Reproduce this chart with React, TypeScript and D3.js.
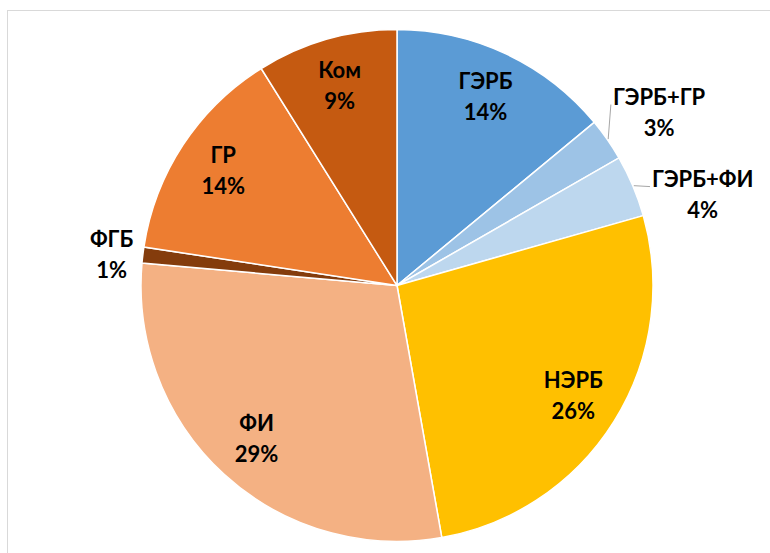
import React, { useEffect, useRef } from 'react';
import * as d3 from 'd3';

const parties = ['ГЭРБ', 'ГЭРБ+ГР', 'ГЭРБ+ФИ', 'НЭРБ', 'ФИ', 'ФГБ', 'ГР', 'Ком'];
const shares = [14.0, 2.7, 3.9, 26.6, 29.2, 1.0, 13.7, 8.9];
const shareLabels = ['14%', '3%', '4%', '26%', '29%', '1%', '14%', '9%'];
const colors = ['#5b9bd5', '#9dc3e6', '#bdd7ee', '#ffc000', '#f4b183', '#843c0c', '#ed7d31', '#c55a11'];
// outside labels: [radius, angle shift in rad]
const outside = { 'ГЭРБ+ГР': [314, 0.023], 'ГЭРБ+ФИ': [319, 0.11], 'ФГБ': [287, -0.012] };
const leaders = ['ГЭРБ+ГР', 'ГЭРБ+ФИ'];

const App = () => {
	const chartRef = useRef<SVGSVGElement>(null);

	useEffect(() => {
		const width = 770;
		const height = 553;
		const cx = 397;
		const cy = 285.5;
		const radius = 256;

		const svg = d3.select(chartRef.current);
		svg.selectAll('*').remove();

		svg.append('rect')
			.attr('x', 7.5)
			.attr('y', 10.5)
			.attr('width', width + 20)
			.attr('height', height + 20)
			.attr('fill', '#fff')
			.attr('stroke', '#d9d9d9');

		const data = parties.map((p, i) => ({ name: p, value: shares[i], label: shareLabels[i], color: colors[i] }));
		const pie = d3.pie<any>().value(d => d.value).sort(null);
		const arcs = pie(data);

		const arc = d3.arc<any>().innerRadius(0).outerRadius(radius);
		const g = svg.append('g').attr('transform', `translate(${cx},${cy})`);

		g.selectAll('path.slice')
			.data(arcs)
			.enter()
			.append('path')
			.attr('class', 'slice')
			.attr('d', arc)
			.attr('fill', d => d.data.color)
			.attr('stroke', '#fff')
			.attr('stroke-width', 1.5);

		const polar = (r, a) => [r * Math.sin(a), -r * Math.cos(a)];

		arcs.forEach(d => {
			const mid = (d.startAngle + d.endAngle) / 2;
			const out = outside[d.data.name];
			const pos = out ? polar(out[0], mid + out[1]) : polar(208, mid);

			const t = g.append('text')
				.attr('x', pos[0])
				.attr('y', pos[1])
				.attr('text-anchor', 'middle')
				.style('font-family', 'Lato, "Noto Sans", sans-serif')
				.style('font-weight', 'bold')
				.style('font-size', '22px')
				.attr('fill', '#000');
			t.append('tspan').attr('x', pos[0]).attr('dy', -8).text(d.data.name);
			t.append('tspan').attr('x', pos[0]).attr('dy', 31).text(d.data.label);

			if (leaders.includes(d.data.name)) {
				const box = (t.node() as SVGTextElement).getBBox();
				const p0 = polar(radius + 1, mid);
				const p1 = [box.x - 2, pos[1] - 8];
				g.append('path')
					.attr('d', d3.line()([p0, p1] as any))
					.attr('fill', 'none')
					.attr('stroke', '#a6a6a6')
					.attr('stroke-width', 1);
			}
		});
	}, []);

	return (
		<svg
			ref={chartRef}
			width={770}
			height={553}
			style={{ position: 'absolute', left: 0, top: 0, background: '#fff' }}
		/>
	);
};

export default App;
